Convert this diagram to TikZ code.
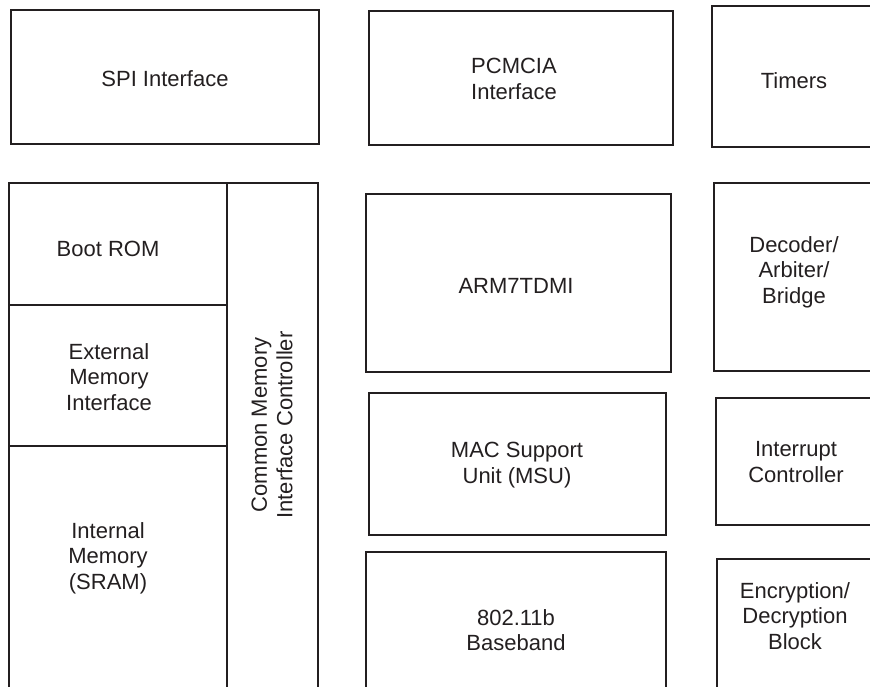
\documentclass[tikz,border=0pt]{standalone}
\usepackage{fontspec}
\setmainfont{Liberation Sans}
\usetikzlibrary{positioning}
\definecolor{ink}{HTML}{231F20}
\tikzstyle{blk}=[draw=ink,line width=1.4pt]
\tikzstyle{lbl}=[text=ink,align=center,inner sep=0pt,font=\fontsize{22}{25.5}\selectfont]

\begin{document}
\begin{tikzpicture}[x=1pt,y=-1pt]
\useasboundingbox (0,0) rectangle (870,686);
\clip (0,0) rectangle (870,686);
% top row
\draw[blk] (11,10) rectangle (319,144);
\draw[blk] (369,11) rectangle (673,145);
\draw[blk] (712,6) rectangle (900,147);
\draw (165,79) node[lbl] (spi) {SPI Interface};
\draw (514,79) node[lbl] (pcmcia) {PCMCIA\\Interface};
\draw (794,81) node[lbl] (timers) {Timers};
% memory column
\draw[blk] (9,183) rectangle (318,720);
\draw[blk] (227,183) -- (227,720);
\draw[blk] (9,305) -- (227,305);
\draw[blk] (9,446) -- (227,446);
\draw (108,249) node[lbl] (bootrom) {Boot ROM};
\draw (109,377) node[lbl] (extmem) {External\\Memory\\Interface};
\draw (108,558) node[lbl] (intmem) {Internal\\Memory\\(SRAM)};
\draw (272,425) node[lbl,rotate=90] (cmic) {Common Memory\\Interface Controller};
% core column
\draw[blk] (366,194) rectangle (671,372);
\draw[blk] (369,393) rectangle (666,535);
\draw[blk] (366,552) rectangle (666,720);
\draw (516,286) node[lbl] (arm) {ARM7TDMI};
\draw (517,465) node[lbl] (msu) {MAC Support\\Unit (MSU)};
\draw (516,630) node[lbl] (bb) {802.11b\\Baseband};
% right column
\draw[blk] (714,183) rectangle (900,371);
\draw[blk] (716,398) rectangle (900,525);
\draw[blk] (717,559) rectangle (900,720);
\draw (794,272) node[lbl] (dab) {Decoder/\\Arbiter/\\Bridge};
\draw (796,462) node[lbl] (intc) {Interrupt\\Controller};
\draw (795,616) node[lbl] (crypt) {Encryption/\\Decryption\\Block};
\end{tikzpicture}
\end{document}
